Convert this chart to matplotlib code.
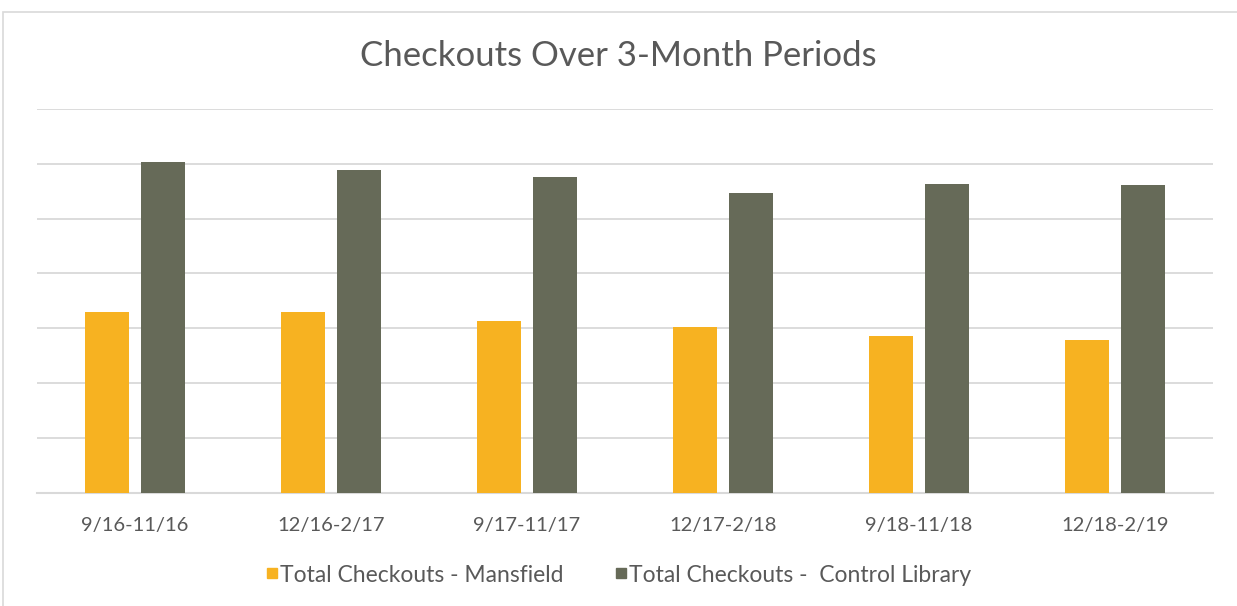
import numpy as np
import matplotlib.pyplot as plt
from matplotlib.patches import Rectangle
from matplotlib.lines import Line2D

periods = ['9/16-11/16', '12/16-2/17', '9/17-11/17', '12/17-2/18', '9/18-11/18', '12/18-2/19']
mansfield = [3.30, 3.30, 3.13, 3.02, 2.86, 2.79]
control = [6.03, 5.88, 5.76, 5.46, 5.63, 5.61]

yellow = '#F7B221'
olive = '#666A58'
text_col = '#595959'
grid_col = '#D9D9D9'

plt.rcParams['font.family'] = ['Lato', 'DejaVu Sans']

fig = plt.figure(figsize=(12.37, 6.06), dpi=100)
ax = fig.add_axes([37 / 1237, 1 - 492.7 / 606, (1213 - 37) / 1237, (492.7 - 109) / 606])

# outer chart frame (only top/left edges show)
fig.patches.append(Rectangle((3 / 1237, -0.05), 1.2, 1 - 12 / 606 + 0.05,
                             transform=fig.transFigure, fill=False,
                             edgecolor='#D9D9D9', linewidth=1.2))

x = np.arange(len(periods))
w = 0.224
off = 0.143
ax.bar(x - off, mansfield, w, color=yellow, zorder=3)
ax.bar(x + off, control, w, color=olive, zorder=3)

ax.set_xlim(-0.5, len(periods) - 0.5)
ax.set_ylim(0, 7)
ax.set_yticks(np.arange(0, 8, 1))
ax.yaxis.grid(True, color=grid_col, linewidth=1.3, zorder=0)
ax.tick_params(axis='y', left=False, labelleft=False)
ax.tick_params(axis='x', bottom=False, pad=14, labelsize=14.5, labelcolor=text_col)
ax.set_xticks(x)
ax.set_xticklabels(periods)
for s in ['top', 'right', 'left']:
    ax.spines[s].set_visible(False)
ax.spines['bottom'].set_color(grid_col)
ax.spines['bottom'].set_linewidth(1.5)

fig.text(0.5, 1 - 56 / 606, 'Checkouts Over 3-Month Periods', ha='center', va='center',
         fontsize=25, color=text_col)

handles = [Line2D([], [], marker='s', linestyle='', color=yellow, markersize=7),
           Line2D([], [], marker='s', linestyle='', color=olive, markersize=7)]
fig.legend(handles, ['Total Checkouts - Mansfield', 'Total Checkouts -  Control Library'],
           loc='center', bbox_to_anchor=(0.5, 1 - 575 / 606), ncol=2, frameon=False,
           fontsize=16.5, labelcolor=text_col, handletextpad=0.05, columnspacing=2.2,
           handlelength=0.6)

fig.savefig('out.png', dpi=100)
